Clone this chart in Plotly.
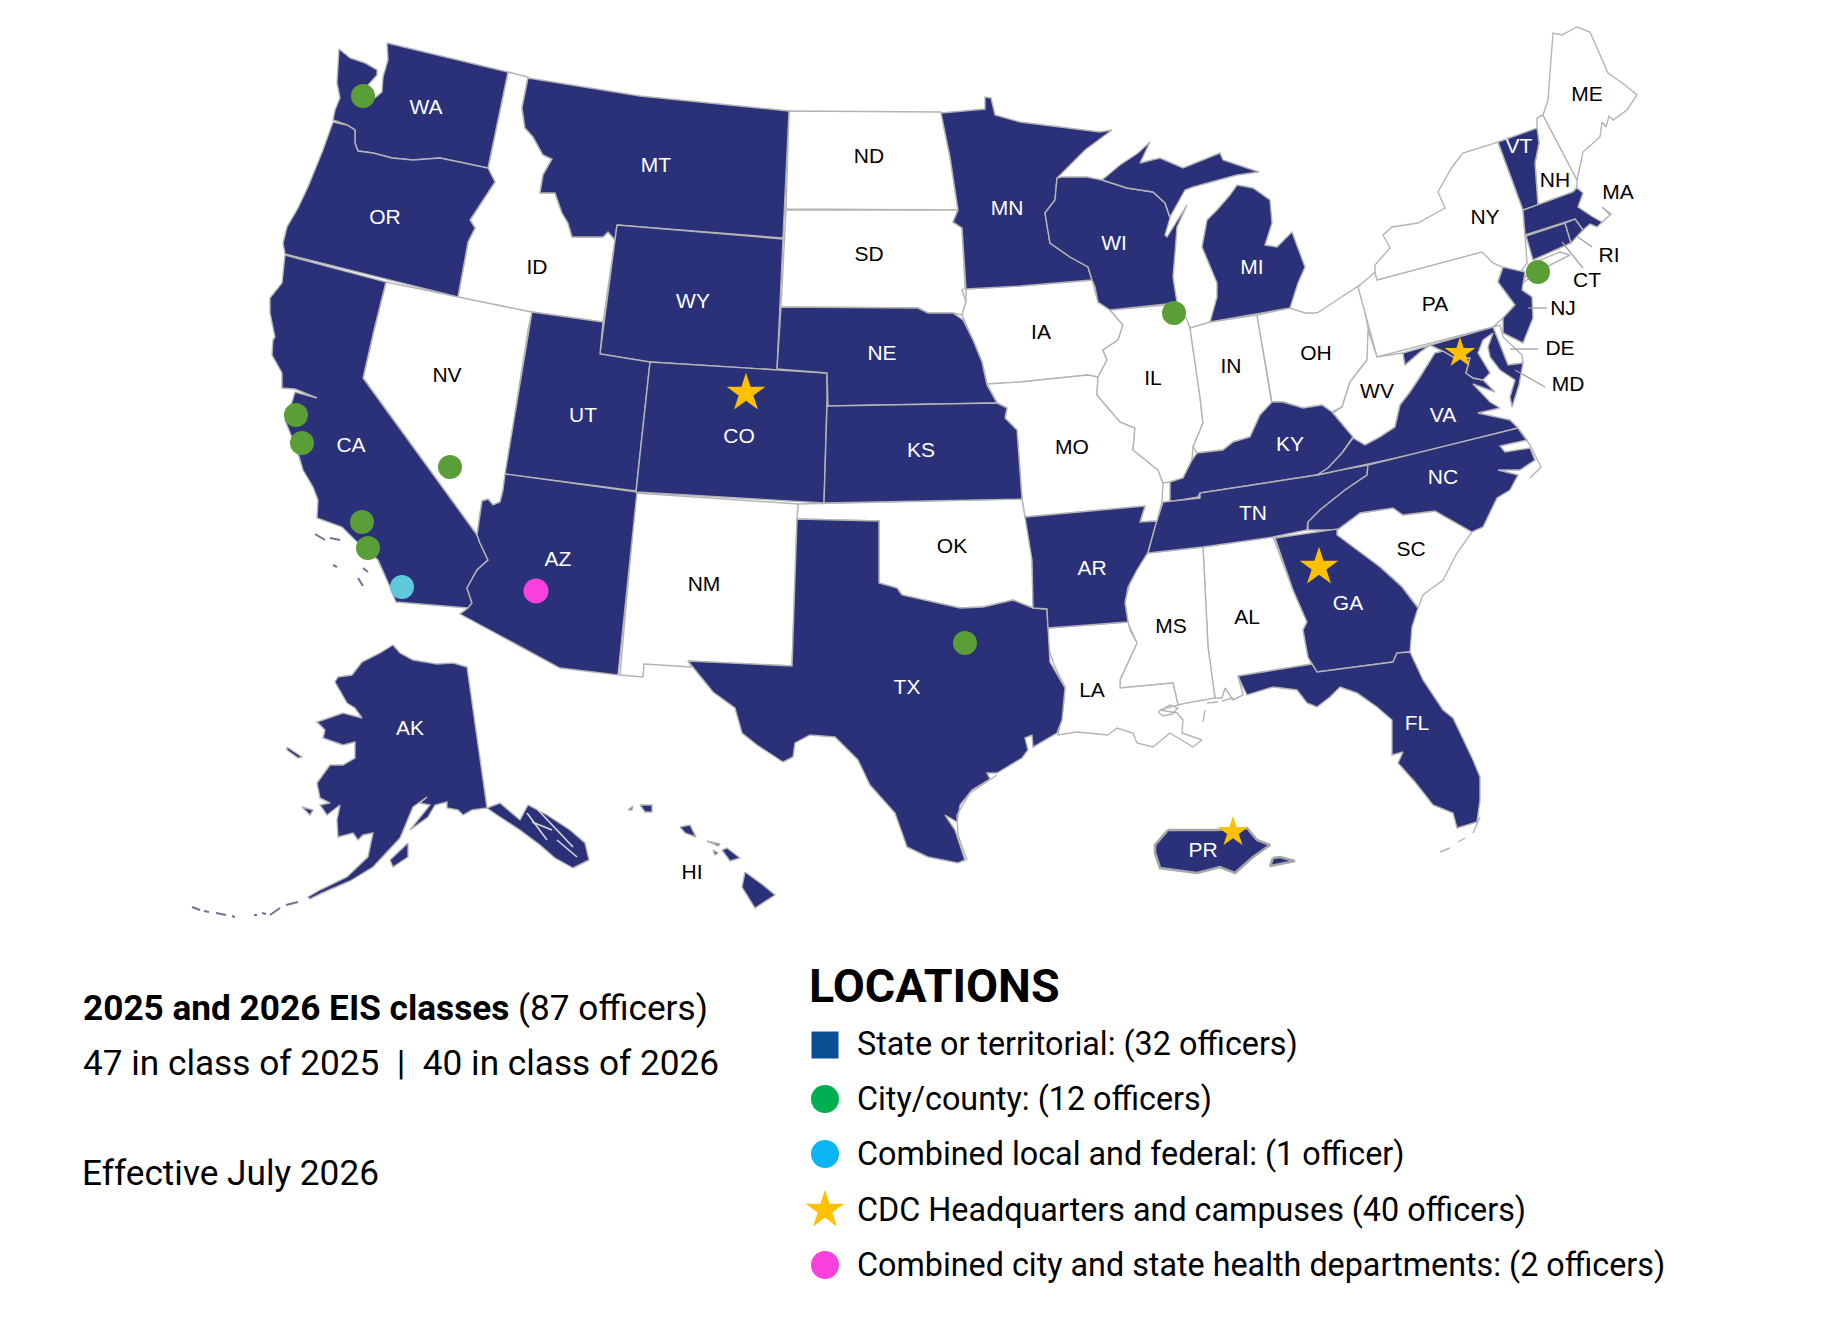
import plotly.graph_objects as go

# state outlines, in picture pixels
WA = [(387,43),(388,60),(383,77),(382,92),(375,98),(368,85),(377,75),(377,70),(365,63),(350,58),(339,49),(338,63),(337,83),(340,98),(335,110),(333,120),(347,125),(355,130),(355,143),(358,151),(373,153),(392,158),(413,160),(440,158),(488,168),(508,72)]
OR = [(333,122),(347,125),(355,130),(355,143),(358,151),(373,153),(392,158),(413,160),(440,158),(488,168),(495,182),(485,197),(470,220),(475,228),(468,242),(458,297),(285,254),(283,243),(287,227),(298,208),(308,187),(323,150)]
CA = [(285,255),(386,282),(374,330),(363,378),(477,535),(480,543),(488,560),(477,570),(467,588),(472,603),(468,608),(396,602),(390,587),(378,560),(355,540),(342,527),(317,518),(318,500),(313,487),(303,470),(298,453),(292,437),(285,420),(292,402),(295,392),(317,398),(295,389),(282,388),(282,373),(272,355),(273,340),(275,337),(270,313),(270,298),(282,283)]
NV = [(386,282),(458,297),(532,312),(528,330),(503,490),(500,502),(493,505),(488,499),(482,501),(477,535),(363,378),(374,330)]
ID = [(508,72),(528,77),(522,108),(525,128),(533,137),(543,155),(552,159),(543,175),(540,193),(555,193),(562,213),(568,223),(572,237),(603,237),(608,232),(615,240),(603,322),(532,312),(458,297),(468,242),(475,228),(470,220),(485,197),(495,182),(488,168)]
MT = [(528,78),(640,96),(789,111),(783,238),(617,225),(615,240),(608,232),(603,237),(572,237),(568,223),(562,213),(555,193),(540,193),(543,175),(552,159),(543,155),(533,137),(525,128),(522,108)]
WY = [(617,225),(783,239),(777,370),(650,362),(600,354)]
UT = [(532,312),(603,322),(600,354),(650,362),(636,491),(505,474)]
CO = [(650,362),(777,370),(827,373),(827,400),(824,503),(636,492)]
NE = [(781,307),(918,308),(928,313),(953,313),(963,320),(973,340),(982,362),(987,385),(997,403),(828,406),(827,373),(777,369)]
SD = [(786,210),(958,210),(953,222),(962,228),(965,288),(962,290),(966,302),(962,315),(953,313),(928,313),(918,308),(781,307)]
ND = [(789,111),(941,112),(950,157),(958,210),(786,209)]
MN = [(941,113),(985,109),(985,97),(991,98),(995,115),(1020,122),(1100,132),(1112,130),(1085,150),(1057,178),(1055,200),(1045,213),(1050,243),(1070,257),(1088,267),(1092,280),(1020,286),(966,289),(962,228),(953,222),(958,210),(950,157)]
WI = [(1057,178),(1062,177),(1087,177),(1102,180),(1127,188),(1153,192),(1165,203),(1170,218),(1165,235),(1167,237),(1187,205),(1177,227),(1175,253),(1173,277),(1177,303),(1110,310),(1098,302),(1095,287),(1092,280),(1088,267),(1070,257),(1050,243),(1045,213),(1055,200)]
MI_UP = [(1102,180),(1120,165),(1138,153),(1150,142),(1140,163),(1160,158),(1183,168),(1220,153),(1223,160),(1243,167),(1259,172),(1237,175),(1193,187),(1185,190),(1170,217),(1165,203),(1153,192),(1127,188)]
MI_LOW = [(1237,185),(1230,195),(1217,210),(1207,220),(1202,247),(1217,283),(1217,297),(1210,322),(1290,308),(1298,283),(1305,267),(1292,232),(1277,247),(1265,245),(1272,223),(1270,200),(1253,188)]
IA = [(966,289),(1020,286),(1092,280),(1098,302),(1110,310),(1123,325),(1118,340),(1103,350),(1107,360),(1098,377),(1088,375),(1020,382),(987,384),(982,362),(973,340),(962,315),(966,302)]
IL = [(1110,310),(1177,304),(1187,320),(1190,328),(1200,397),(1203,423),(1193,447),(1192,460),(1183,478),(1170,482),(1163,483),(1158,470),(1133,450),(1135,428),(1120,422),(1097,395),(1098,377),(1107,360),(1103,350),(1118,340),(1123,325)]
IN = [(1190,328),(1210,322),(1257,315),(1272,405),(1260,415),(1250,437),(1233,442),(1223,450),(1197,453),(1193,447),(1203,423),(1200,397)]
OH = [(1257,315),(1290,308),(1305,313),(1317,313),(1337,300),(1360,285),(1369,333),(1367,360),(1350,382),(1342,407),(1332,412),(1322,405),(1303,408),(1283,402),(1272,402)]
PA = [(1358,287),(1375,272),(1377,280),(1482,251),(1492,260),(1503,267),(1498,282),(1515,305),(1503,318),(1493,327),(1377,357)]
NY = [(1377,280),(1482,252),(1493,263),(1502,267),(1520,273),(1527,263),(1525,235),(1523,210),(1512,180),(1498,142),(1463,153),(1452,167),(1438,192),(1445,208),(1418,223),(1392,227),(1383,235),(1390,248),(1375,265),(1375,272)]
LONG_ISLAND = [(1520,285),(1540,270),(1570,255),(1560,252),(1535,262)]
VT = [(1498,142),(1537,128),(1539,143),(1535,163),(1538,205),(1523,210),(1512,180)]
NH = [(1537,118),(1543,115),(1577,180),(1577,187),(1573,192),(1538,205),(1535,163),(1539,143),(1537,128)]
ME = [(1543,115),(1548,100),(1553,33),(1562,35),(1577,27),(1590,32),(1608,73),(1625,85),(1637,95),(1627,110),(1613,120),(1609,116),(1606,127),(1602,122),(1600,137),(1583,152),(1577,180)]
MA = [(1523,210),(1573,192),(1577,188),(1583,193),(1578,207),(1593,217),(1602,222),(1610,215),(1602,207),(1611,214),(1597,227),(1590,224),(1583,230),(1575,219),(1525,235)]
CT = [(1526,236),(1565,223),(1571,243),(1533,260)]
RI = [(1565,223),(1575,219),(1583,230),(1577,237),(1571,243)]
NJ = [(1503,267),(1525,272),(1522,290),(1532,297),(1533,318),(1523,343),(1503,333),(1503,318),(1515,305),(1498,282)]
DE = [(1493,327),(1500,325),(1503,337),(1522,355),(1523,363),(1508,365)]
MD = [(1403,353),(1493,327),(1508,365),(1523,363),(1519,385),(1512,407),(1510,397),(1515,380),(1500,370),(1490,357),(1488,347),(1493,333),(1483,340),(1478,353),(1490,373),(1483,380),(1473,378),(1466,373),(1470,358),(1455,358),(1443,351),(1430,345),(1420,352),(1405,365)]
WV = [(1368,330),(1377,357),(1403,353),(1405,365),(1420,352),(1430,345),(1443,351),(1435,353),(1420,377),(1410,392),(1400,405),(1395,427),(1380,437),(1365,445),(1353,438),(1333,413),(1342,407),(1350,382),(1367,360)]
VA = [(1317,475),(1340,470),(1420,453),(1518,428),(1510,420),(1478,413),(1500,408),(1490,402),(1473,384),(1495,392),(1483,380),(1473,378),(1466,373),(1470,358),(1455,358),(1443,351),(1435,353),(1420,377),(1410,392),(1400,405),(1395,427),(1380,437),(1365,445),(1353,438),(1342,453),(1328,468)]
KY = [(1197,453),(1223,450),(1233,442),(1250,437),(1260,415),(1272,402),(1283,402),(1303,408),(1322,405),(1332,412),(1353,437),(1342,453),(1328,468),(1317,475),(1200,493),(1198,497),(1170,502),(1170,482),(1183,478),(1192,460)]
TN = [(1163,502),(1200,498),(1200,493),(1317,475),(1340,470),(1368,465),(1367,475),(1345,490),(1320,510),(1308,522),(1307,530),(1273,537),(1203,547),(1148,553),(1155,527)]
NC = [(1368,465),(1518,428),(1527,440),(1500,446),(1505,452),(1530,448),(1535,460),(1520,470),(1498,470),(1518,475),(1510,490),(1497,498),(1483,527),(1472,532),(1435,511),(1403,515),(1393,508),(1360,513),(1337,530),(1308,530),(1308,522),(1320,510),(1345,490),(1367,475)]
SC = [(1337,530),(1360,513),(1393,508),(1403,515),(1435,511),(1472,532),(1457,553),(1443,580),(1423,595),(1418,608),(1402,587),(1380,567),(1357,550),(1337,535)]
GA = [(1275,538),(1337,529),(1337,535),(1357,550),(1380,567),(1402,587),(1418,608),(1412,627),(1410,652),(1397,653),(1393,662),(1317,672),(1308,657),(1303,630),(1307,622),(1293,590)]
AL = [(1203,547),(1273,537),(1293,590),(1307,622),(1303,630),(1308,657),(1312,664),(1238,676),(1243,695),(1233,700),(1225,688),(1222,698),(1215,698),(1208,647)]
FL = [(1238,676),(1312,664),(1317,672),(1393,662),(1397,653),(1410,652),(1423,680),(1443,710),(1453,718),(1473,760),(1480,777),(1480,800),(1477,822),(1457,828),(1453,813),(1433,805),(1415,782),(1398,763),(1403,752),(1392,755),(1392,720),(1377,707),(1357,693),(1340,687),(1330,697),(1317,707),(1307,703),(1297,690),(1273,687),(1247,695),(1243,687)]
MS = [(1148,553),(1203,547),(1208,647),(1215,698),(1187,703),(1178,705),(1173,683),(1120,688),(1120,680),(1137,643),(1128,623),(1125,600),(1130,583),(1140,563)]
LA = [(1048,628),(1128,622),(1130,630),(1137,643),(1120,680),(1120,688),(1173,683),(1178,705),(1160,710),(1177,713),(1183,720),(1182,733),(1202,740),(1193,747),(1170,733),(1153,747),(1137,743),(1133,733),(1117,728),(1108,735),(1077,732),(1058,735),(1063,710),(1065,687),(1055,667),(1048,647)]
PONTCHARTRAIN = [(1158,712),(1170,705),(1178,708),(1172,714),(1163,716)]
AR = [(1025,517),(1145,506),(1140,522),(1157,521),(1148,552),(1137,570),(1128,587),(1125,603),(1128,622),(1048,628),(1047,609),(1033,608),(1032,560)]
MO = [(987,384),(1020,382),(1088,375),(1098,377),(1097,395),(1120,422),(1135,428),(1133,450),(1158,470),(1163,483),(1162,502),(1157,521),(1140,522),(1145,506),(1025,517),(1022,499),(1017,430),(1005,418),(1007,408),(997,403)]
KS = [(827,406),(997,403),(1007,408),(1005,418),(1017,430),(1022,499),(824,503)]
OK = [(798,504),(1022,499),(1025,517),(1032,550),(1033,608),(1013,600),(983,607),(960,608),(933,602),(902,595),(897,588),(879,583),(879,521),(797,519)]
NM = [(636,493),(798,504),(797,519),(792,666),(688,661),(692,667),(644,664),(643,677),(620,675)]
AZ = [(505,474),(637,492),(618,675),(560,668),(460,614),(468,608),(472,603),(467,588),(477,570),(488,560),(480,543),(477,535),(482,501),(488,499),(493,505),(500,502),(503,490)]
TX = [(797,519),(879,521),(879,583),(897,588),(902,595),(933,602),(960,608),(983,607),(1013,600),(1033,608),(1047,609),(1048,627),(1050,662),(1065,688),(1062,720),(1057,733),(1033,747),(1032,735),(1025,738),(1028,750),(1022,758),(997,773),(987,773),(990,779),(972,790),(960,805),(957,822),(945,815),(955,830),(965,860),(958,863),(928,857),(907,847),(895,813),(870,785),(858,760),(835,737),(810,735),(795,743),(793,757),(783,762),(757,745),(742,733),(735,708),(713,692),(688,661),(792,666)]
AK = [(393,645),(380,653),(362,662),(352,675),(338,677),(335,682),(347,703),(355,708),(362,718),(343,713),(317,722),(325,730),(323,738),(343,745),(355,742),(355,758),(343,765),(330,765),(317,783),(320,798),(330,803),(320,805),(327,815),(340,805),(337,820),(338,837),(353,833),(358,840),(363,835),(373,833),(368,857),(347,877),(320,890),(308,897),(310,899),(322,893),(350,881),(373,867),(400,838),(413,807),(427,797),(420,803),(430,805),(410,830),(428,817),(435,805),(447,802),(447,808),(458,810),(463,815),(472,810),(487,808),(467,667),(453,663),(437,664),(413,660),(400,653)]
AK_PANHANDLE = [(487,808),(500,803),(520,820),(528,805),(547,815),(570,830),(585,843),(589,860),(573,868),(555,858),(540,845),(520,830),(497,815)]
AK_ST_LAWRENCE = [(287,747),(302,757),(298,758),(287,750)]
AK_NUNIVAK = [(302,807),(313,810),(310,815)]
AK_KODIAK = [(390,860),(408,843),(408,857),(393,867)]
HI_NIIHAU = [(628,810),(633,806),(632,810)]
HI_KAUAI = [(640,805),(652,805),(652,812),(645,812)]
HI_OAHU = [(680,827),(690,825),(696,837),(685,833)]
HI_MOLOKAI = [(707,841),(720,844),(718,846)]
HI_LANAI = [(713,850),(718,853),(715,855)]
HI_MAUI = [(722,850),(727,848),(740,858),(730,861)]
HI_BIG = [(745,872),(763,885),(775,895),(755,908),(742,887)]
PR_MAIN = [(1168,830),(1217,830),(1247,828),(1257,840),(1270,845),(1253,857),(1235,873),(1220,867),(1197,873),(1160,868),(1155,853),(1155,845)]
PR_VIEQUES = [(1273,858),(1280,857),(1295,861),(1270,866)]

SERVED = {"WA": [WA], "OR": [OR], "CA": [CA], "MT": [MT], "WY": [WY], "UT": [UT], "AZ": [AZ], "CO": [CO],
          "NE": [NE], "KS": [KS], "TX": [TX], "MN": [MN], "WI": [WI], "MI": [MI_UP, MI_LOW], "AR": [AR],
          "KY": [KY], "TN": [TN], "VA": [VA], "NC": [NC], "GA": [GA], "FL": [FL], "NJ": [NJ], "VT": [VT],
          "MA": [MA], "CT": [CT], "RI": [RI], "MD": [MD], "AK": [AK, AK_PANHANDLE, AK_ST_LAWRENCE, AK_NUNIVAK, AK_KODIAK],
          "HI": [HI_NIIHAU, HI_KAUAI, HI_OAHU, HI_MOLOKAI, HI_LANAI, HI_MAUI, HI_BIG]}
NOT_SERVED = {"NV": [NV], "ID": [ID], "ND": [ND], "SD": [SD], "IA": [IA], "MO": [MO], "IL": [IL], "IN": [IN],
              "OH": [OH], "PA": [PA], "NY": [NY, LONG_ISLAND], "NH": [NH], "ME": [ME], "DE": [DE], "WV": [WV],
              "SC": [SC], "AL": [AL], "MS": [MS], "LA": [LA, PONTCHARTRAIN], "OK": [OK], "NM": [NM]}

LABELS = ["WA","OR","ID","MT","ND","SD","WY","NE","MN","NV","UT","CA","AZ","CO","KS","MO","OK","NM","TX","HI","IA","WI","MI","IL","IN","OH","KY","WV","PA","VA","NC","TN","AR","LA","MS","AL","GA","SC","FL","PR","AK","NY","VT","NH","ME","MA","RI","CT","NJ","DE","MD"]
LABEL_X = [426,385,537,656,869,869,693,882,1007,447,583,351,558,739,921,1072,952,704,907,692,1041,1114,1252,1153,1231,1316,1290,1377,1435,1443,1443,1253,1092,1092,1171,1247,1348,1411,1417,1203,410,1485,1519,1555,1587,1618,1609,1587,1563,1560,1568]
LABEL_Y = [109,219,269,167,158,256,303,355,210,377,417,447,561,438,452,449,548,586,689,874,334,245,269,380,368,355,446,393,306,417,479,515,570,692,628,619,605,551,725,852,730,219,148,182,96,194,257,282,310,350,386]
DARK_LABELS = ["ID","ND","SD","NV","MO","OK","NM","HI","IA","IL","IN","OH","WV","PA","LA","MS","AL","SC","NY","NH","ME","MA","RI","CT","NJ","DE","MD"]

# leader lines for the small north-east states
LEADER_X = [1578,1592,None,1562,1583,None,1528,1547,None,1510,1538,None,1515,1545]
LEADER_Y = [237,247,None,242,268,None,308,308,None,349,349,None,370,387]
# thin coast lines: barrier islands, keys, outer banks, gulf islands
COAST_X = [997,970,957,958,967,None,1518,1530,1541,1530,None,1480,1473,None,1465,1458,None,1450,1440,None,1207,1218,None,1222,1233,None,1205,1203]
COAST_Y = [775,793,815,835,860,None,428,445,467,478,None,817,833,None,838,842,None,848,852,None,703,702,None,701,698,None,710,722]
# aleutians and the channel islands
ISLES_X = [192,200,None,204,209,None,216,226,None,232,235,None,254,257,None,262,266,None,270,280,None,286,298,None,315,325,None,330,340,None,333,337,None,363,368,None,358,363]
ISLES_Y = [907,910,None,911,912,None,913,915,None,916,917,None,915,915,None,913,914,None,915,908,None,905,902,None,534,540,None,538,540,None,565,567,None,568,572,None,578,586]
# fjords cutting through the alaska panhandle
FJORD_X = [527,547,None,538,573,None,557,577,None,532,552]
FJORD_Y = [813,840,None,810,847,None,840,857,None,822,830]

CITY_X = [363,296,302,450,362,368,965,1174,1538]
CITY_Y = [96,415,443,467,522,548,643,313,272]
LOCAL_FEDERAL_X = [402]
LOCAL_FEDERAL_Y = [587]
COMBINED_X = [536]
COMBINED_Y = [591]
CDC_BIG_X = [746,1319]
CDC_BIG_Y = [393,567]
CDC_SMALL_X = [1460,1233]
CDC_SMALL_Y = [353,832]

LEGEND_TEXT = ["State or territorial: (32 officers)", "City/county: (12 officers)", "Combined local and federal: (1 officer)",
               "CDC Headquarters and campuses (40 officers)", "Combined city and state health departments: (2 officers)"]
LEGEND_Y = [1049,1104,1159,1215,1270]
LEGEND_SYMBOL = ["square","circle","circle","star","circle"]
LEGEND_COLOR = ["#0b4f93","#00b050","#0db5f3","#ffc000","#f93fdc"]
LEGEND_SIZE = [27,28,28,29,28]

NAVY = "#2a3178"
EDGE = "#b4b4b4"
BODY = "Roboto"
MAP = "Liberation Sans"


def outline(parts):
    xs, ys = [], []
    for part in parts:
        xs += [p[0] for p in part] + [part[0][0], None]
        ys += [p[1] for p in part] + [part[0][1], None]
    return xs, ys


def add_state(fig, name, parts, color):
    xs, ys = outline(parts)
    fig.add_trace(go.Scatter(x=xs, y=ys, mode="lines", fill="toself", fillcolor=color, name=name,
                             line=dict(color=EDGE, width=1.4), hoverinfo="name"))


def add_markers(fig, xs, ys, symbol, color, size):
    fig.add_trace(go.Scatter(x=xs, y=ys, mode="markers", hoverinfo="skip",
                             marker=dict(symbol=symbol, color=color, size=size, line=dict(width=0))))


fig = go.Figure()

for name, parts in NOT_SERVED.items():
    add_state(fig, name, parts, "white")
for name, parts in SERVED.items():
    add_state(fig, name, parts, NAVY)

# Puerto Rico has a heavier grey edge
xs, ys = outline([PR_MAIN, PR_VIEQUES])
fig.add_trace(go.Scatter(x=xs, y=ys, mode="lines", fill="toself", fillcolor=NAVY, name="PR",
                         line=dict(color="#a6a6a6", width=2.6), hoverinfo="name"))

fig.add_trace(go.Scatter(x=COAST_X, y=COAST_Y, mode="lines", line=dict(color=EDGE, width=1.4), hoverinfo="skip"))
fig.add_trace(go.Scatter(x=ISLES_X, y=ISLES_Y, mode="lines", line=dict(color="#6f7396", width=2), hoverinfo="skip"))
fig.add_trace(go.Scatter(x=FJORD_X, y=FJORD_Y, mode="lines", line=dict(color="#d9d9d9", width=1.6), hoverinfo="skip"))
fig.add_trace(go.Scatter(x=LEADER_X, y=LEADER_Y, mode="lines", line=dict(color="#a0a0a0", width=1.3), hoverinfo="skip"))

add_markers(fig, CITY_X, CITY_Y, "circle", "#5a9e38", 24)
add_markers(fig, LOCAL_FEDERAL_X, LOCAL_FEDERAL_Y, "circle", "#5fc9dc", 24)
add_markers(fig, COMBINED_X, COMBINED_Y, "circle", "#f93fdc", 25)
add_markers(fig, CDC_BIG_X, CDC_BIG_Y, "star", "#ffc000", 29)
add_markers(fig, CDC_SMALL_X, CDC_SMALL_Y, "star", "#ffc000", 23)

label_colors = ["black" if s in DARK_LABELS else "white" for s in LABELS]
fig.add_trace(go.Scatter(x=LABEL_X, y=LABEL_Y, mode="text", text=LABELS, textposition="middle center", hoverinfo="skip",
                         textfont=dict(family=MAP, size=21, color=label_colors)))

# legend is drawn by hand, it sits under the map like the rest of the notes
for y, symbol, color, size in zip(LEGEND_Y, LEGEND_SYMBOL, LEGEND_COLOR, LEGEND_SIZE):
    add_markers(fig, [825], [y - 4 if symbol == "square" else y - 5], symbol, color, size)


def note(x, y, text, size):
    fig.add_annotation(x=x, y=y, xref="x", yref="y", text=text, showarrow=False, xanchor="left", yanchor="middle",
                       font=dict(family=BODY, size=size, color="black"))


note(81, 1008, "<b>2025 and 2026 EIS classes</b> (87 officers)", 35.2)
note(81, 1063, "47 in class of 2025  |  40 in class of 2026", 35.2)
note(80, 1173, "Effective July 2026", 35.2)
note(807, 986, "<b>LOCATIONS</b>", 46.5)
for y, text in zip(LEGEND_Y, LEGEND_TEXT):
    note(855, y - 5, text, 32.3)

fig.update_xaxes(range=[0, 1830], visible=False)
fig.update_yaxes(range=[1320, 0], visible=False)
fig.update_layout(width=1830, height=1320, margin=dict(l=0, r=0, t=0, b=0), showlegend=False,
                  plot_bgcolor="white", paper_bgcolor="white")

fig.write_html("out.html", config={"displayModeBar": False}, post_script="document.body.style.margin='0';")
